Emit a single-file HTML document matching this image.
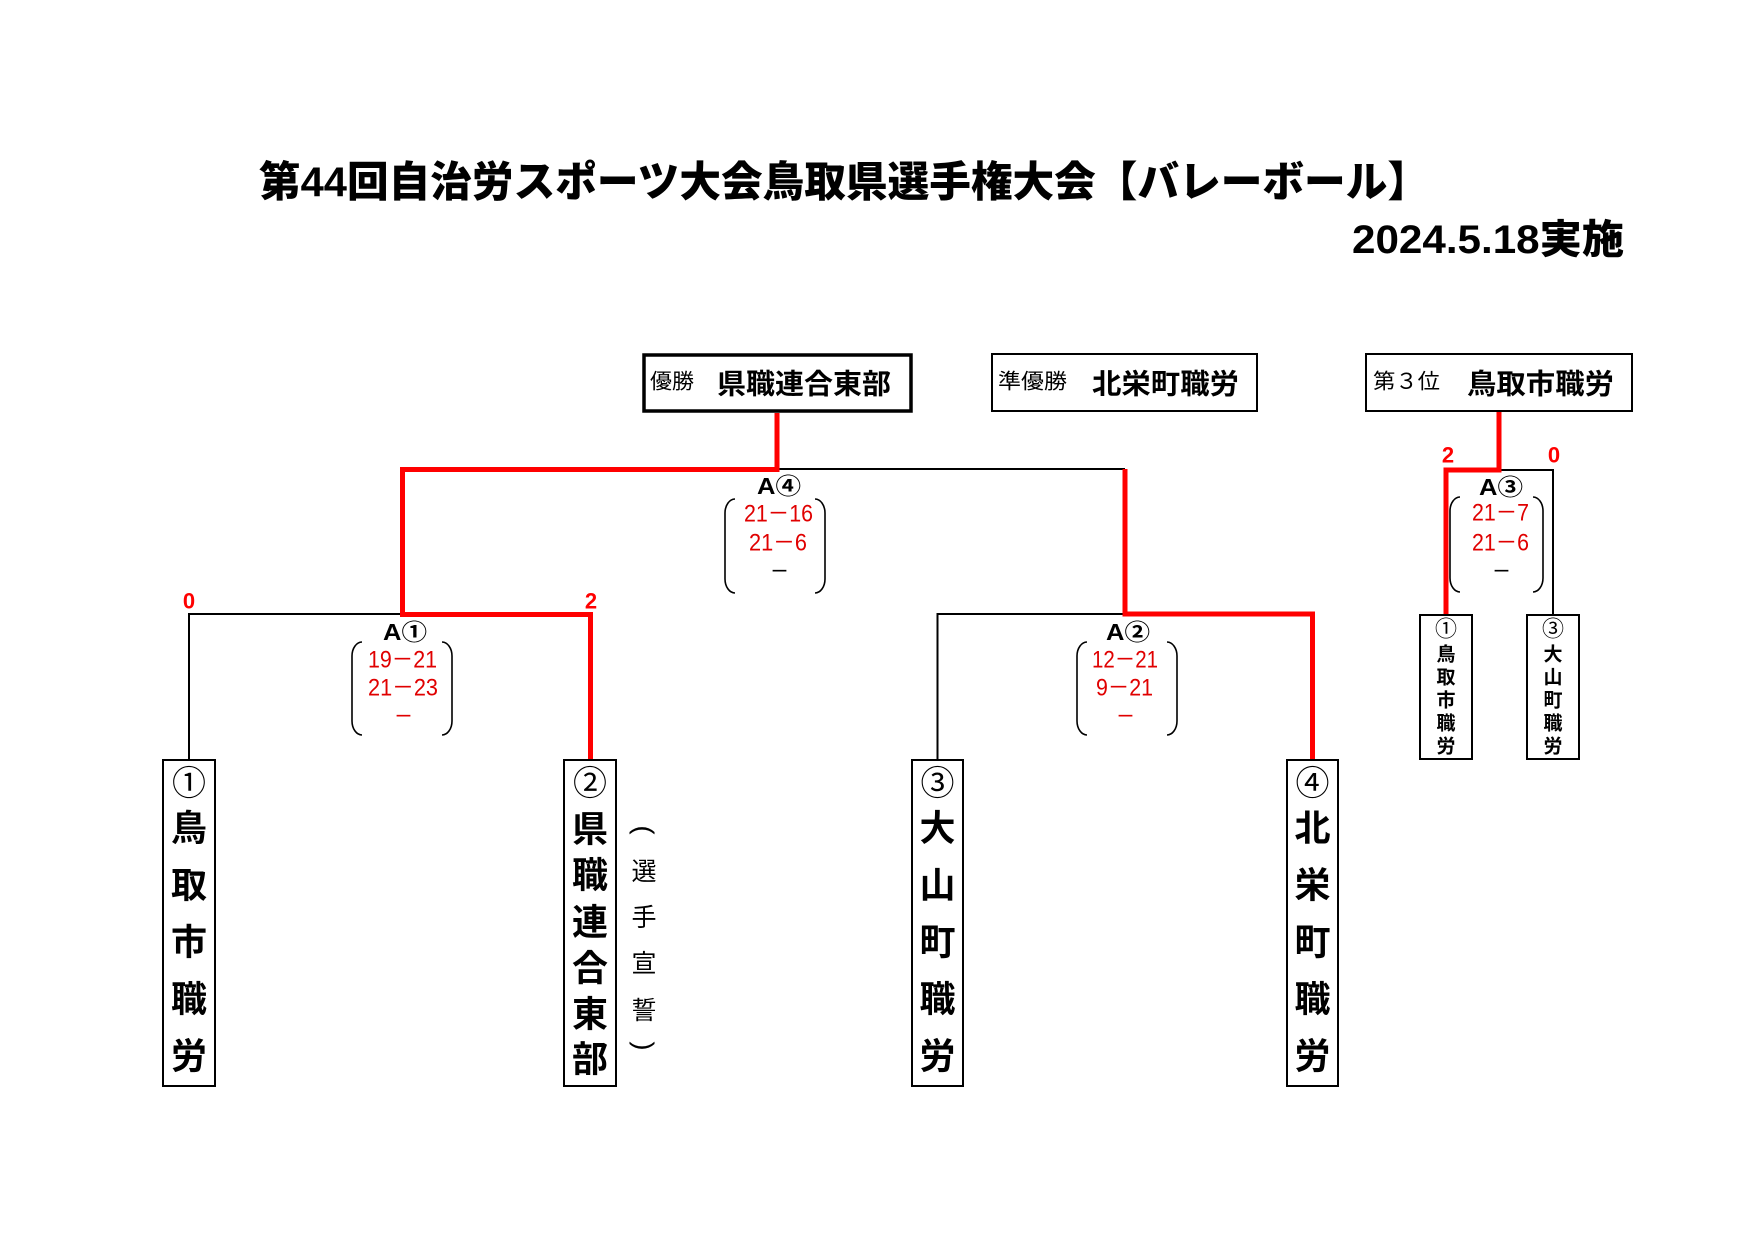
<!DOCTYPE html>
<html>
<head>
<meta charset="utf-8">
<style>
html,body{margin:0;padding:0;background:#fff;}
svg{display:block;}
text{font-family:"Liberation Sans","Noto Sans CJK JP",sans-serif;dominant-baseline:central;}
.t{font-weight:900;}
.b{font-weight:bold;}
.sc{fill:#e00000;font-size:24px;}
.lab{font-size:23px;font-weight:bold;}
.rn{fill:#ff0000;font-size:22px;font-weight:bold;}
</style>
</head>
<body>
<svg width="1754" height="1240" viewBox="0 0 1754 1240" xmlns="http://www.w3.org/2000/svg">
<rect x="0" y="0" width="1754" height="1240" fill="#fff"/>

<!-- Title -->
<text class="t" x="259" y="182" font-size="42" textLength="1170" lengthAdjust="spacingAndGlyphs">第44回自治労スポーツ大会鳥取県選手権大会【バレーボール】</text>
<text class="t" x="1352" y="240" font-size="40" textLength="272" lengthAdjust="spacingAndGlyphs">2024.5.18実施</text>

<!-- Header boxes -->
<rect x="644" y="355" width="267" height="56" fill="none" stroke="#000" stroke-width="3.5"/>
<text x="650" y="382" font-size="21" textLength="44" lengthAdjust="spacingAndGlyphs">優勝</text>
<text class="b" x="717" y="384" font-size="28" textLength="174" lengthAdjust="spacingAndGlyphs">県職連合東部</text>

<rect x="992" y="354" width="265" height="57" fill="none" stroke="#000" stroke-width="2"/>
<text x="998" y="382" font-size="21" textLength="69" lengthAdjust="spacingAndGlyphs">準優勝</text>
<text class="b" x="1092" y="384" font-size="28" textLength="147" lengthAdjust="spacingAndGlyphs">北栄町職労</text>

<rect x="1366" y="354" width="266" height="57" fill="none" stroke="#000" stroke-width="2"/>
<text x="1373" y="382" font-size="21" textLength="67" lengthAdjust="spacingAndGlyphs">第３位</text>
<text class="b" x="1467" y="384" font-size="28" textLength="147" lengthAdjust="spacingAndGlyphs">鳥取市職労</text>

<!-- Black connector lines -->
<g fill="none" stroke="#000" stroke-width="2">
  <path d="M777 469 H1125"/>
  <path d="M189 760 V614 H402"/>
  <path d="M937.5 760 V614 H1125"/>
  <path d="M1499 470 H1553 V614"/>
</g>

<!-- Red winner lines -->
<g fill="none" stroke="#ff0000" stroke-width="5" stroke-linejoin="miter" stroke-linecap="butt">
  <path d="M777 413 V469.5 H402.5 V614.5 H590.5 V760"/>
  <path d="M1125 469 V614 H1312.5 V760"/>
  <path d="M1499 412 V470 H1446 V614"/>
</g>

<!-- Brackets -->
<g fill="none" stroke="#000" stroke-width="1.6">
  <path d="M362 642 A10 14 0 0 0 352 656 V721 A10 14 0 0 0 362 735"/>
  <path d="M442 642 A10 14 0 0 1 452 656 V721 A10 14 0 0 1 442 735"/>
  <path d="M735 499 A10 14 0 0 0 725 513 V579 A10 14 0 0 0 735 593"/>
  <path d="M815 499 A10 14 0 0 1 825 513 V579 A10 14 0 0 1 815 593"/>
  <path d="M1087 642 A10 14 0 0 0 1077 656 V721 A10 14 0 0 0 1087 735"/>
  <path d="M1167 642 A10 14 0 0 1 1177 656 V721 A10 14 0 0 1 1167 735"/>
  <path d="M1460 497 A10 14 0 0 0 1450 511 V578 A10 14 0 0 0 1460 592"/>
  <path d="M1533 497 A10 14 0 0 1 1543 511 V578 A10 14 0 0 1 1533 592"/>
</g>

<!-- Match labels -->
<text class="lab" x="383" y="632" textLength="44" lengthAdjust="spacingAndGlyphs">A①</text>
<text class="lab" x="757" y="486" textLength="44" lengthAdjust="spacingAndGlyphs">A④</text>
<text class="lab" x="1106" y="632" textLength="44" lengthAdjust="spacingAndGlyphs">A②</text>
<text class="lab" x="1479" y="487" textLength="44" lengthAdjust="spacingAndGlyphs">A③</text>

<!-- Round scores -->
<text class="rn" x="189" y="601" text-anchor="middle">0</text>
<text class="rn" x="591" y="601" text-anchor="middle">2</text>
<text class="rn" x="1448" y="455" text-anchor="middle">2</text>
<text class="rn" x="1554" y="455" text-anchor="middle">0</text>

<!-- Set scores A1 -->
<text class="sc" x="368" y="660" textLength="69" lengthAdjust="spacingAndGlyphs">19－21</text>
<text class="sc" x="368" y="688" textLength="70" lengthAdjust="spacingAndGlyphs">21－23</text>
<text class="sc" x="394" y="717" textLength="19" lengthAdjust="spacingAndGlyphs">－</text>
<!-- A4 -->
<text class="sc" x="744" y="514" textLength="69" lengthAdjust="spacingAndGlyphs">21－16</text>
<text class="sc" x="749" y="543" textLength="58" lengthAdjust="spacingAndGlyphs">21－6</text>
<text class="sc" x="770" y="572" textLength="19" lengthAdjust="spacingAndGlyphs" style="fill:#000">－</text>
<!-- A2 -->
<text class="sc" x="1092" y="660" textLength="66" lengthAdjust="spacingAndGlyphs">12－21</text>
<text class="sc" x="1096" y="688" textLength="57" lengthAdjust="spacingAndGlyphs">9－21</text>
<text class="sc" x="1116" y="717" textLength="19" lengthAdjust="spacingAndGlyphs">－</text>
<!-- A3 -->
<text class="sc" x="1472" y="513" textLength="57" lengthAdjust="spacingAndGlyphs">21－7</text>
<text class="sc" x="1472" y="543" textLength="57" lengthAdjust="spacingAndGlyphs">21－6</text>
<text class="sc" x="1492" y="572" textLength="19" lengthAdjust="spacingAndGlyphs" style="fill:#000">－</text>

<!-- Team boxes -->
<g fill="none" stroke="#000" stroke-width="2">
  <rect x="163" y="760" width="52" height="326"/>
  <rect x="564" y="760" width="52" height="326"/>
  <rect x="912" y="760" width="51" height="326"/>
  <rect x="1287" y="760" width="51" height="326"/>
  <rect x="1420" y="615" width="52" height="144"/>
  <rect x="1527" y="615" width="52" height="144"/>
</g>

<g text-anchor="middle">
<!-- Box 1 -->
<text x="189" y="784" font-size="34">①</text>
<text class="b" x="189" y="828" font-size="36">鳥</text>
<text class="b" x="189" y="885" font-size="36">取</text>
<text class="b" x="189" y="942" font-size="36">市</text>
<text class="b" x="189" y="999" font-size="36">職</text>
<text class="b" x="189" y="1056" font-size="36">労</text>

<!-- Box 2 -->
<text x="590" y="784" font-size="34">②</text>
<text class="b" x="590" y="829" font-size="36">県</text>
<text class="b" x="590" y="875" font-size="36">職</text>
<text class="b" x="590" y="922" font-size="36">連</text>
<text class="b" x="590" y="968" font-size="36">合</text>
<text class="b" x="590" y="1014" font-size="36">東</text>
<text class="b" x="590" y="1059" font-size="36">部</text>

<!-- 選手宣誓 -->
<text x="644" y="830" font-size="27" font-family="Liberation Sans" transform="rotate(90 644 830)">(</text>
<text x="644" y="872" font-size="25">選</text>
<text x="644" y="918" font-size="25">手</text>
<text x="644" y="964" font-size="25">宣</text>
<text x="644" y="1011" font-size="25">誓</text>
<text x="644" y="1046" font-size="27" font-family="Liberation Sans" transform="rotate(90 644 1046)">)</text>

<!-- Box 3 -->
<text x="937.5" y="784" font-size="34">③</text>
<text class="b" x="937.5" y="828" font-size="36">大</text>
<text class="b" x="937.5" y="885" font-size="36">山</text>
<text class="b" x="937.5" y="942" font-size="36">町</text>
<text class="b" x="937.5" y="999" font-size="36">職</text>
<text class="b" x="937.5" y="1056" font-size="36">労</text>

<!-- Box 4 -->
<text x="1312.5" y="784" font-size="34">④</text>
<text class="b" x="1312.5" y="828" font-size="36">北</text>
<text class="b" x="1312.5" y="885" font-size="36">栄</text>
<text class="b" x="1312.5" y="942" font-size="36">町</text>
<text class="b" x="1312.5" y="999" font-size="36">職</text>
<text class="b" x="1312.5" y="1056" font-size="36">労</text>

<!-- Small box 1 -->
<text x="1446" y="629" font-size="22">①</text>
<text class="b" x="1446" y="655" font-size="19">鳥</text>
<text class="b" x="1446" y="678" font-size="19">取</text>
<text class="b" x="1446" y="701" font-size="19">市</text>
<text class="b" x="1446" y="724" font-size="19">職</text>
<text class="b" x="1446" y="747" font-size="19">労</text>

<!-- Small box 3 -->
<text x="1553" y="629" font-size="22">③</text>
<text class="b" x="1553" y="655" font-size="19">大</text>
<text class="b" x="1553" y="678" font-size="19">山</text>
<text class="b" x="1553" y="701" font-size="19">町</text>
<text class="b" x="1553" y="724" font-size="19">職</text>
<text class="b" x="1553" y="747" font-size="19">労</text>
</g>
</svg>
</body>
</html>
